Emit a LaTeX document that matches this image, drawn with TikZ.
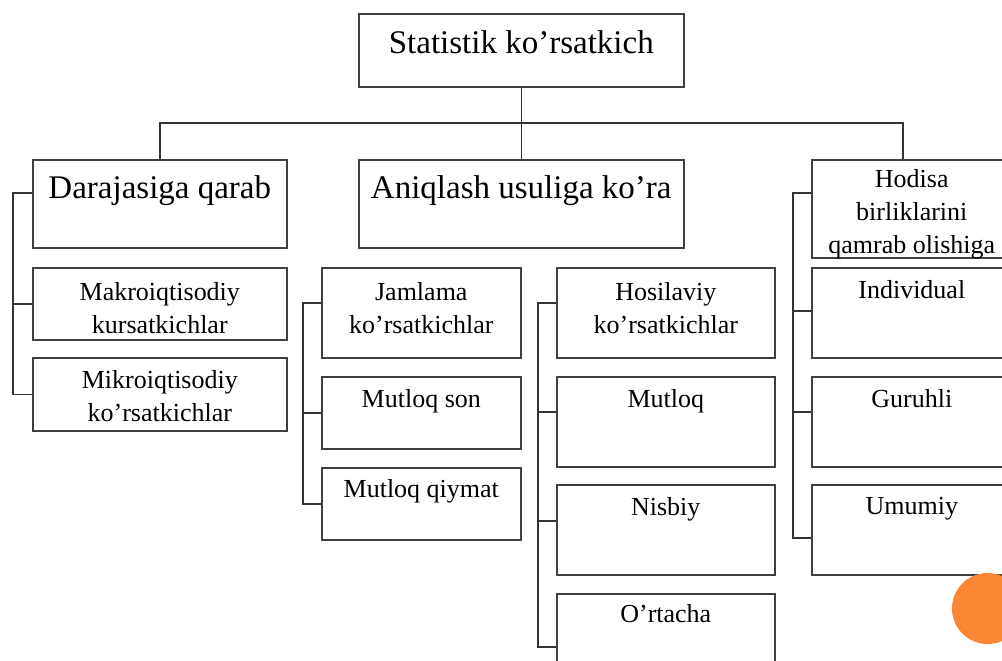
\documentclass[tikz,border=0pt]{standalone}
\usepackage{fontspec}
\setmainfont{Liberation Serif}
\usetikzlibrary{positioning}
\definecolor{dotorange}{RGB}{253,134,52}
\tikzset{
  box/.style 2 args={draw=black!75,line width=1.6pt,anchor=north west,inner sep=0pt,minimum width=#1,minimum height=#2},
  bigtxt/.style={font=\fontsize{33}{40}\selectfont,anchor=north,inner sep=0pt,align=center},
  smalltxt/.style={font=\fontsize{26}{33}\selectfont,anchor=north,inner sep=0pt,align=center},
  link/.style={draw=black!80,line width=1.4pt}
}
\begin{document}
\begin{tikzpicture}[x=1pt,y=-1pt,node distance=13pt]
    \useasboundingbox (0,0) rectangle (1002,661);
    \clip (0,0) rectangle (1002,661);
    % boxes
    \node[box={325pt}{73pt}] (top) at (358,13) {};
    \node[box={254pt}{88pt}] (dq) at (32,159) {};
    \node[box={325pt}{88pt}] (aq) at (358,159) {};
    \node[box={200pt}{98pt}] (hb) at (811,159) {};
    \node[box={254pt}{72pt}] (ma) at (32,267) {};
    \node[box={254pt}{73pt}] (mi) at (32,357) {};
    \node[box={199pt}{90pt}] (js) at (321,267) {};
    \node[box={199pt}{72pt}] (ms) at (321,376) {};
    \node[box={199pt}{72pt}] (mq) at (321,467) {};
    \node[box={218pt}{90pt}] (hk) at (556,267) {};
    \node[box={218pt}{90pt}] (mt) at (556,376) {};
    \node[box={218pt}{90pt}] (nb) at (556,484) {};
    \node[box={218pt}{90pt}] (ot) at (556,593) {};
    \node[box={200pt}{90pt}] (iv) at (811,267) {};
    \node[box={200pt}{90pt}] (gr) at (811,376) {};
    \node[box={200pt}{90pt}] (um) at (811,484) {};
    % texts
    \node[bigtxt,below=17pt of top.north] (topt) {Statistik ko’rsatkich};
    \node[bigtxt,below=16pt of dq.north] (dqt) {Darajasiga qarab};
    \node[bigtxt,below=16pt of aq.north] (aqt) {Aniqlash usuliga ko’ra};
    \node[smalltxt,below=10pt of hb.north] (hbt) {Hodisa\\birliklarini\\qamrab olishiga};
    \node[smalltxt,below=15pt of ma.north] (mat) {Makroiqtisodiy\\kursatkichlar};
    \node[smalltxt,below=of mi.north] (mit) {Mikroiqtisodiy\\ko’rsatkichlar};
    \node[smalltxt,below=15pt of js.north] (jst) {Jamlama\\ko’rsatkichlar};
    \node[smalltxt,below=of ms.north] (mst) {Mutloq son};
    \node[smalltxt,below=12pt of mq.north] (mqt) {Mutloq qiymat};
    \node[smalltxt,below=15pt of hk.north] (hkt) {Hosilaviy\\ko’rsatkichlar};
    \node[smalltxt,below=of mt.north] (mtt) {Mutloq};
    \node[smalltxt,below=of nb.north] (nbt) {Nisbiy};
    \node[smalltxt,below=11pt of ot.north] (ott) {O’rtacha};
    \node[smalltxt,below=of iv.north] (ivt) {Individual};
    \node[smalltxt,below=of gr.north] (grt) {Guruhli};
    \node[smalltxt,below=of um.north] (umt) {Umumiy};
    % tree
    \coordinate (bus) at (521,123);
    \draw[link] (top.south) -- (aq.north);
    \draw[link] (dq.north) |- (bus) -| ([xshift=-9pt]hb.north);
    % brackets
    \draw[link] ([yshift=-34pt]dq.north west) -- ++(-19,0) |- (mi.west);
    \draw[link] (ma.west) -- ++(-19,0);
    \draw[link] ([yshift=-36pt]js.north west) -- ++(-18,0) |- (mq.west);
    \draw[link] (ms.west) -- ++(-18,0);
    \draw[link] ([yshift=-36pt]hk.north west) -- ++(-18,0) |- ([yshift=-54pt]ot.north west);
    \draw[link] ([yshift=-36pt]mt.north west) -- ++(-18,0);
    \draw[link] ([yshift=-37pt]nb.north west) -- ++(-18,0);
    \draw[link] ([yshift=-34pt]hb.north west) -- ++(-18,0) |- ([yshift=-54pt]um.north west);
    \draw[link] ([yshift=-44pt]iv.north west) -- ++(-18,0);
    \draw[link] ([yshift=-36pt]gr.north west) -- ++(-18,0);
    \fill[dotorange] (987.5,608.5) circle (35.5);
\end{tikzpicture}
\end{document}
